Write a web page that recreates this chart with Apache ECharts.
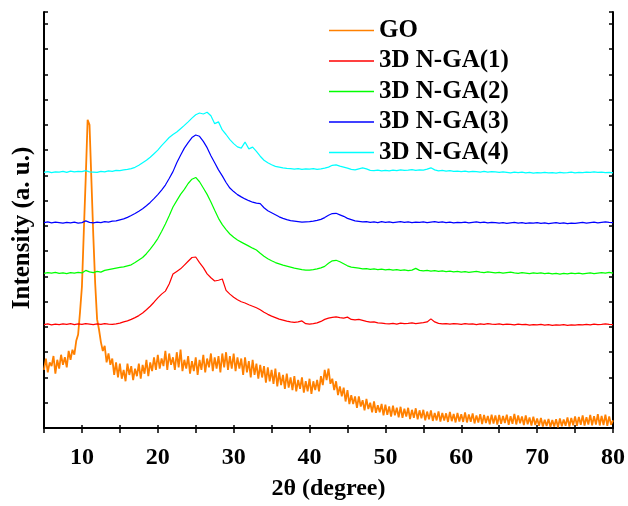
<!DOCTYPE html>
<html>
<head>
<meta charset="utf-8">
<title>XRD patterns</title>
<script src="https://cdn.jsdelivr.net/npm/echarts@6/dist/echarts.min.js"></script>
<style>
  html, body { margin: 0; padding: 0; background: #fff; }
  #chart { width: 628px; height: 506px; }
</style>
</head>
<body>
<div id="chart"></div>
<script>
// 2θ sampling of the traces (degrees)
const thetaStart = 5;
const goStep = 0.25;    // GO trace, 5..80
const gaStep = 0.5;     // 3D N-GA traces, 5..80

const seriesNames = ['GO', '3D N-GA(1)', '3D N-GA(2)', '3D N-GA(3)', '3D N-GA(4)'];
const seriesColors = ['#ff8000', '#ff0000', '#00ff00', '#0000ff', '#00ffff'];
const xTicks = [10, 20, 30, 40, 50, 60, 70, 80];

// intensities (a. u., traces offset vertically)
const goIntensity = [
  2.3, 2.75, 2.2, 2.6, 2.45, 2.85, 2.15, 2.7, 2.35, 2.9, 2.5, 2.8, 2.4, 3.05, 2.7, 3.1, 2.9, 3.45, 3.7, 4.6,
  5.6, 7.8, 9.9, 12.2, 12.0, 9.8, 7.6, 5.7, 4.3, 3.9, 3.4, 3.05, 3.25, 2.6, 2.95, 2.5, 2.75, 2.1, 2.6, 2.0,
  2.55, 1.95, 2.3, 1.85, 2.55, 2.1, 2.45, 1.9, 2.35, 2.05, 2.55, 1.95, 2.5, 2.15, 2.7, 2.05, 2.6, 2.25, 2.8, 2.3,
  2.9, 2.35, 2.75, 2.45, 3.05, 2.3, 2.95, 2.5, 2.8, 2.3, 3.0, 2.4, 3.1, 2.25, 2.7, 2.35, 2.85, 2.15, 2.65, 2.25,
  2.8, 2.1, 2.7, 2.3, 2.9, 2.2, 2.75, 2.4, 2.95, 2.25, 2.8, 2.35, 2.85, 2.2, 2.95, 2.4, 3.0, 2.3, 2.85, 2.35,
  2.95, 2.25, 2.8, 2.35, 2.75, 2.1, 2.8, 2.2, 2.65, 2.0, 2.7, 2.1, 2.55, 1.95, 2.5, 2.0, 2.45, 1.8, 2.4, 1.85,
  2.3, 1.75, 2.35, 1.65, 2.2, 1.7, 2.1, 1.55, 2.15, 1.6, 2.0, 1.5, 2.05, 1.45, 1.9, 1.55, 2.0, 1.4, 1.85, 1.45,
  1.95, 1.35, 1.85, 1.5, 1.9, 1.45, 2.05, 1.7, 2.3, 1.9, 2.35, 1.75, 1.95, 1.5, 1.85, 1.3, 1.65, 1.25, 1.6, 1.05,
  1.5, 0.95, 1.3, 0.95, 1.25, 0.8, 1.25, 0.85, 1.1, 0.7, 1.15, 0.75, 1.0, 0.62, 1.05, 0.6, 0.9, 0.62, 0.95, 0.5,
  0.92, 0.52, 0.85, 0.45, 0.88, 0.5, 0.8, 0.42, 0.84, 0.4, 0.76, 0.45, 0.8, 0.35, 0.72, 0.4, 0.78, 0.34, 0.7, 0.38,
  0.72, 0.3, 0.65, 0.34, 0.7, 0.28, 0.6, 0.3, 0.66, 0.25, 0.6, 0.3, 0.58, 0.24, 0.64, 0.27, 0.56, 0.22, 0.6, 0.26,
  0.55, 0.24, 0.62, 0.22, 0.54, 0.25, 0.58, 0.18, 0.5, 0.22, 0.55, 0.16, 0.52, 0.2, 0.48, 0.15, 0.53, 0.18, 0.5, 0.14,
  0.52, 0.17, 0.48, 0.2, 0.53, 0.13, 0.47, 0.17, 0.56, 0.14, 0.5, 0.19, 0.46, 0.12, 0.5, 0.15, 0.42, 0.1, 0.45, 0.12,
  0.38, 0.09, 0.4, 0.06, 0.33, 0.08, 0.36, 0.04, 0.32, 0.06, 0.35, 0.03, 0.38, 0.07, 0.34, 0.09, 0.42, 0.06, 0.4, 0.11,
  0.46, 0.09, 0.44, 0.13, 0.5, 0.1, 0.43, 0.14, 0.52, 0.11, 0.47, 0.14, 0.55, 0.1, 0.48, 0.12, 0.53, 0.09, 0.46, 0.13,
  0.3
];

const ga1Intensity = [
  4.09, 4.12, 4.08, 4.11, 4.09, 4.12, 4.1, 4.13, 4.09, 4.12,
  4.1, 4.13, 4.11, 4.09, 4.12, 4.1, 4.13, 4.11, 4.1, 4.12,
  4.15, 4.2, 4.24, 4.3, 4.37, 4.45, 4.55, 4.68, 4.82, 4.98,
  5.15, 5.3, 5.42, 5.7, 6.1, 6.2, 6.3, 6.45, 6.6, 6.75,
  6.77, 6.55, 6.35, 6.1, 5.95, 5.82, 5.85, 5.9, 5.45, 5.3,
  5.18, 5.08, 5.0, 4.95, 4.88, 4.82, 4.76, 4.68, 4.58, 4.5,
  4.43, 4.37, 4.31, 4.27, 4.23, 4.2, 4.18, 4.2, 4.24, 4.13,
  4.11, 4.13, 4.16, 4.22, 4.3, 4.35, 4.38, 4.4, 4.37, 4.35,
  4.39, 4.3, 4.28, 4.3, 4.26, 4.22, 4.19, 4.2, 4.16, 4.15,
  4.13, 4.12, 4.14, 4.11, 4.15, 4.13, 4.14, 4.16, 4.13, 4.15,
  4.17, 4.2, 4.32, 4.2, 4.14, 4.12, 4.13, 4.11, 4.13, 4.12,
  4.1, 4.13, 4.11, 4.12, 4.09, 4.12, 4.1, 4.13, 4.11, 4.1,
  4.12, 4.09, 4.11, 4.1, 4.08, 4.11, 4.09, 4.1, 4.07, 4.09,
  4.08, 4.1, 4.07, 4.09, 4.06, 4.08, 4.07, 4.09, 4.06, 4.08,
  4.07, 4.09, 4.08, 4.1, 4.08, 4.11, 4.09, 4.1, 4.12, 4.1,
  4.09
];

const ga2Intensity = [
  6.12, 6.15, 6.13, 6.16, 6.12, 6.14, 6.11, 6.15, 6.13, 6.16,
  6.14, 6.24, 6.18, 6.15, 6.2, 6.17, 6.24, 6.27, 6.3, 6.33,
  6.36, 6.38, 6.42, 6.46, 6.55, 6.65, 6.75, 6.9, 7.08, 7.28,
  7.5, 7.78, 8.08, 8.4, 8.75, 9.0, 9.25, 9.45, 9.68, 9.85,
  9.92, 9.75, 9.5, 9.25, 8.95, 8.62, 8.3, 8.05, 7.85, 7.68,
  7.55, 7.44, 7.36, 7.28, 7.2, 7.12, 7.05, 6.92, 6.8, 6.7,
  6.62, 6.55, 6.5, 6.45, 6.41, 6.37, 6.33, 6.3, 6.27, 6.25,
  6.25, 6.27, 6.3, 6.34, 6.4, 6.52, 6.62, 6.64, 6.58, 6.5,
  6.42, 6.37, 6.35, 6.33, 6.3, 6.31, 6.28, 6.3, 6.27, 6.29,
  6.26, 6.28, 6.25, 6.27, 6.24, 6.26, 6.23, 6.25, 6.32, 6.24,
  6.22, 6.24, 6.21, 6.23, 6.2, 6.22, 6.19, 6.21, 6.18, 6.2,
  6.17, 6.19, 6.16, 6.18, 6.2, 6.17, 6.15, 6.18, 6.16, 6.14,
  6.16, 6.13, 6.15, 6.17, 6.14, 6.12, 6.15, 6.13, 6.11, 6.14,
  6.12, 6.14, 6.11, 6.13, 6.1, 6.12, 6.09, 6.12, 6.1, 6.13,
  6.11, 6.13, 6.1, 6.12, 6.14, 6.11, 6.13, 6.15, 6.13, 6.16,
  6.13
];

const ga3Intensity = [
  8.13, 8.16, 8.12, 8.15, 8.13, 8.11, 8.14, 8.12, 8.15, 8.11,
  8.13, 8.2, 8.14, 8.12, 8.15, 8.13, 8.17, 8.15, 8.19, 8.2,
  8.24, 8.28, 8.34, 8.41, 8.49, 8.58, 8.68, 8.8, 8.93, 9.08,
  9.24, 9.42, 9.62, 9.88, 10.15, 10.5, 10.8, 11.08, 11.3, 11.5,
  11.6, 11.55, 11.35, 11.1, 10.78, 10.5, 10.22, 9.98, 9.72, 9.5,
  9.36, 9.24, 9.15, 9.07, 9.0, 8.94, 8.9, 8.88, 8.72, 8.6,
  8.52, 8.44, 8.36, 8.3, 8.25, 8.21, 8.19, 8.17, 8.15, 8.16,
  8.17, 8.19, 8.22, 8.26, 8.33, 8.42, 8.49, 8.5, 8.44, 8.38,
  8.3, 8.25, 8.2, 8.18, 8.16, 8.17, 8.14, 8.16, 8.13, 8.17,
  8.14, 8.16, 8.13, 8.15, 8.17, 8.14, 8.16, 8.13, 8.15, 8.14,
  8.16, 8.13, 8.15, 8.17, 8.14, 8.16, 8.13, 8.15, 8.12, 8.14,
  8.13, 8.15, 8.12, 8.14, 8.16, 8.13, 8.15, 8.12, 8.14, 8.13,
  8.11, 8.13, 8.1, 8.12, 8.14, 8.11, 8.13, 8.1, 8.12, 8.11,
  8.13, 8.1, 8.12, 8.09, 8.11, 8.13, 8.1, 8.12, 8.09, 8.11,
  8.1, 8.12, 8.14, 8.11, 8.13, 8.15, 8.12, 8.14, 8.16, 8.14,
  8.13
];

const ga4Intensity = [
  10.12, 10.15, 10.11, 10.14, 10.13, 10.16, 10.12, 10.17, 10.14, 10.16,
  10.15, 10.19, 10.14, 10.13, 10.12, 10.16, 10.14, 10.18, 10.16, 10.2,
  10.19, 10.22, 10.24, 10.27, 10.32, 10.4, 10.5, 10.6, 10.72, 10.86,
  11.0, 11.18, 11.34, 11.5, 11.62, 11.72, 11.85, 11.98, 12.12, 12.27,
  12.4, 12.47, 12.43, 12.5, 12.36, 12.05, 12.12, 11.8, 11.62, 11.42,
  11.26, 11.13, 11.08, 11.32, 11.05, 11.12, 10.95, 10.76, 10.6, 10.5,
  10.42, 10.36, 10.33, 10.3, 10.28, 10.27, 10.25, 10.27, 10.24, 10.26,
  10.25, 10.27, 10.24, 10.26, 10.29, 10.33, 10.4, 10.42, 10.37, 10.33,
  10.29, 10.24, 10.22, 10.26, 10.3, 10.26, 10.2, 10.19, 10.21, 10.18,
  10.2, 10.18, 10.21, 10.19, 10.22, 10.2, 10.21, 10.23, 10.2, 10.22,
  10.21, 10.25, 10.3, 10.22, 10.18, 10.2, 10.17, 10.19, 10.16, 10.17,
  10.15, 10.17, 10.14, 10.16, 10.15, 10.13, 10.16, 10.13, 10.15, 10.14,
  10.12, 10.14, 10.12, 10.1, 10.13, 10.11, 10.13, 10.1, 10.12, 10.09,
  10.11, 10.1, 10.12, 10.1, 10.11, 10.09, 10.12, 10.1, 10.11, 10.13,
  10.1, 10.12, 10.11, 10.13, 10.12, 10.14, 10.12, 10.13, 10.11, 10.12,
  10.1
];

const font = '"Liberation Serif", "Times New Roman", serif';

// pair every reading with its 2θ position
function toPairs(values, step) {
  return values.map((v, i) => [thetaStart + i * step, v]);
}

const traces = [
  toPairs(goIntensity, goStep),
  toPairs(ga1Intensity, gaStep),
  toPairs(ga2Intensity, gaStep),
  toPairs(ga3Intensity, gaStep),
  toPairs(ga4Intensity, gaStep)
];

const chart = echarts.init(document.getElementById('chart'));

const axisLine = { show: true, lineStyle: { color: '#000', width: 2 } };

const option = {
  animation: false,
  backgroundColor: '#fff',
  color: seriesColors,
  grid: { left: 44, right: 13, top: 12, bottom: 70 },
  legend: {
    orient: 'vertical',
    left: 329,
    top: 18,
    padding: 0,
    itemGap: 5.5,
    itemWidth: 45,
    itemHeight: 1.5,
    icon: 'rect',
    data: seriesNames,
    textStyle: { fontFamily: font, fontWeight: 'bold', fontSize: 25, lineHeight: 25, color: '#000' }
  },
  xAxis: [
    {
      type: 'value', position: 'bottom', min: 5, max: 80, interval: 5,
      name: '2θ (degree)', nameLocation: 'middle', nameGap: 49,
      nameTextStyle: { fontFamily: font, fontWeight: 'bold', fontSize: 24, color: '#000' },
      axisLine: axisLine,
      axisTick: { show: true, inside: false, length: 5, lineStyle: { color: '#000', width: 1.5 } },
      axisLabel: {
        margin: 18, fontFamily: font, fontWeight: 'bold', fontSize: 24, color: '#000',
        formatter: v => (xTicks.indexOf(v) >= 0 ? String(v) : '')
      },
      splitLine: { show: false }
    },
    {
      type: 'value', position: 'top', min: 5, max: 80, interval: 5,
      axisLine: axisLine,
      axisTick: { show: true, inside: false, length: 3, lineStyle: { color: '#000', width: 1.5 } },
      axisLabel: { show: false },
      splitLine: { show: false }
    }
  ],
  yAxis: [
    {
      type: 'value', position: 'left', min: 0, max: 16.47, interval: 1,
      name: 'Intensity (a. u.)', nameLocation: 'middle', nameGap: 9,
      nameTextStyle: { fontFamily: font, fontWeight: 'bold', fontSize: 25, color: '#000', padding: [0, 16, 0, 0] },
      axisLine: axisLine,
      axisTick: { show: true, inside: true, length: 4, lineStyle: { color: '#000', width: 1.5 } },
      axisLabel: { show: false },
      splitLine: { show: false }
    },
    {
      type: 'value', position: 'right', min: 0, max: 16.47, interval: 1,
      axisLine: axisLine,
      axisTick: { show: true, inside: true, length: 4, lineStyle: { color: '#000', width: 1.5 } },
      axisLabel: { show: false },
      splitLine: { show: false }
    }
  ],
  series: seriesNames.map((name, i) => ({
    name: name,
    type: 'line',
    data: traces[i],
    showSymbol: false,
    symbol: 'none',
    lineStyle: { width: i === 0 ? 1.8 : 1.2, color: seriesColors[i] },
    itemStyle: { color: seriesColors[i] }
  }))
};

chart.setOption(option);
</script>
</body>
</html>
